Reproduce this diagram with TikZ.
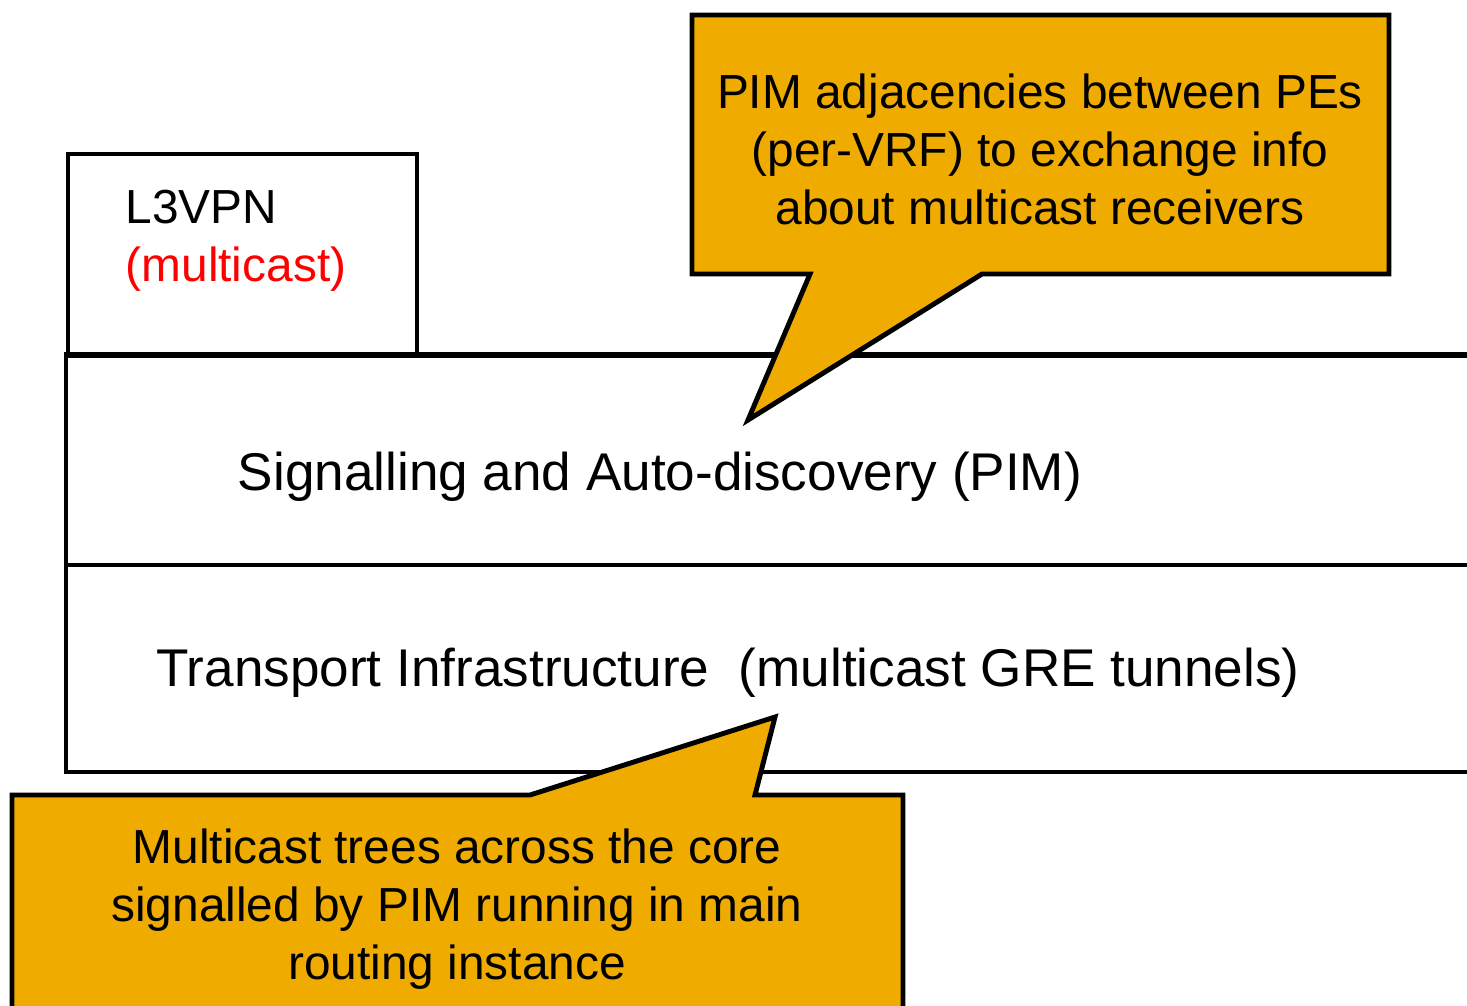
\documentclass[tikz,border=0pt]{standalone}
\usepackage{fontspec}
\setmainfont{Liberation Sans}
\definecolor{NoteClr}{rgb}{0.94,0.67,0}
\definecolor{VpnClr}{rgb}{1,0,0}

\begin{document}
\begin{tikzpicture}[x=0.01cm,y=-0.01cm,
  layer/.style={line width=1.3pt,color=black},
  note/.style={line width=1.4pt,draw=black,fill=NoteClr,line join=miter},
  txt/.style={font=\fontsize{13.6}{16.5}\selectfont,align=center,inner sep=0pt},
  big/.style={txt,font=\fontsize{15.1}{18}\selectfont}]
\useasboundingbox (0,0) rectangle (1467,1005);

\draw[layer] (68,355) -- (68,154) -- (417,154) -- (417,355);
\draw[layer] (66,355) -- (66,772) -- (1480,772);
\draw[layer] (66,565) -- (1480,565);
\draw[layer,line width=1.7pt] (64,355) -- (1480,355);

\draw[note] (692,15) -- (1389,15) -- (1389,274) -- (982,274) -- (748,420) -- (810,274) -- (692,274) -- cycle;
\draw[note] (12,1020) -- (12,795) -- (530,795) -- (775,717) -- (755,795) -- (903,795) -- (903,1020);

\node[txt,anchor=base west] (vpn) at (125,223) {L3VPN};
\node[txt,anchor=base west,text=VpnClr] (mcast) at (125,281) {(multicast)};
\node[big] (sig) at (660,477) {Signalling and Auto-discovery (PIM)};
\node[big] (trans) at (728,673) {Transport Infrastructure~ (multicast GRE tunnels)};
\node[txt] (pimnote) at (1040,149) {PIM adjacencies between PEs\\(per-VRF) to exchange info\\about multicast receivers};
\node[txt] (treenote) at (457,909) {Multicast trees across the core\\signalled by PIM running in main\\routing instance};

\end{tikzpicture}
\end{document}
